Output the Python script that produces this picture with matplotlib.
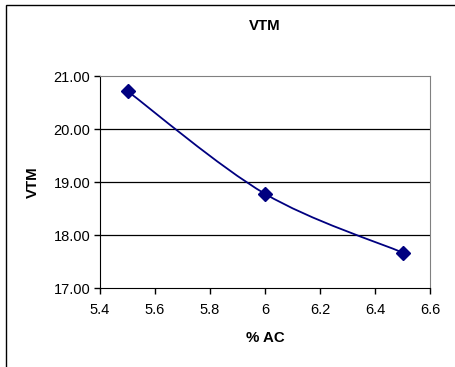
import matplotlib
matplotlib.use("Agg")
import matplotlib.pyplot as plt
from matplotlib.path import Path
from matplotlib.patches import PathPatch, Rectangle
import numpy as np

plt.rcParams['font.family'] = ['Liberation Sans', 'DejaVu Sans']

ac = [5.5, 6.0, 6.5]
vtm = [20.72, 18.78, 17.67]
x_ticks = [5.4, 5.6, 5.8, 6.0, 6.2, 6.4, 6.6]
x_tick_labels = ['5.4', '5.6', '5.8', '6', '6.2', '6.4', '6.6']
y_ticks = [17, 18, 19, 20, 21]

W, H = 456, 367
fig = plt.figure(figsize=(W / 100, H / 100), dpi=100)
fig.patch.set_facecolor('white')

# chart area border
fig.patches.append(Rectangle((6 / W, -0.05), 1.2, (H - 5) / H + 0.05,
                             transform=fig.transFigure, fill=False,
                             edgecolor='black', linewidth=1.0))

ax = fig.add_axes([100 / W, 1 - 288 / H, 330 / W, (288 - 76.3) / H])
ax.set_xlim(5.4, 6.6)
ax.set_ylim(17, 21)
ax.set_xticks(x_ticks)
ax.set_xticklabels(x_tick_labels)
ax.set_yticks(y_ticks)
ax.set_yticklabels([f'{v:.2f}' for v in y_ticks])
ax.tick_params(direction='out', length=4, width=1, labelsize=10.5, color='black')
ax.tick_params(axis='x', pad=7)
ax.tick_params(axis='y', pad=3)
for s in ['top', 'right']:
    ax.spines[s].set_color('#808080')
for s in ['left', 'bottom']:
    ax.spines[s].set_color('black')
for v in y_ticks[1:-1]:
    ax.axhline(v, color='black', linewidth=0.9, zorder=1)

# smoothed curve through the points (Catmull-Rom as cubic Bezier)
pts = np.column_stack([ac, vtm])
verts = [tuple(pts[0])]
codes = [Path.MOVETO]
n = len(pts)
for i in range(n - 1):
    p0 = pts[max(i - 1, 0)]
    p1 = pts[i]
    p2 = pts[i + 1]
    p3 = pts[min(i + 2, n - 1)]
    c1 = p1 + (p2 - p0) / 6
    c2 = p2 - (p3 - p1) / 6
    verts += [tuple(c1), tuple(c2), tuple(p2)]
    codes += [Path.CURVE4] * 3
ax.add_patch(PathPatch(Path(verts, codes), fill=False, edgecolor='#000080',
                       linewidth=1.3, zorder=3))
ax.plot(ac, vtm, linestyle='none', marker='D', markersize=7,
        color='#000080', zorder=4, clip_on=False)

fig.text(265 / W, 1 - 25.7 / H, 'VTM', ha='center', va='center',
         fontsize=10.8, fontweight='bold')
fig.text(265 / W, 1 - 337.7 / H, '% AC', ha='center', va='center',
         fontsize=10.8, fontweight='bold')
fig.text(33 / W, 1 - 182 / H, 'VTM', ha='center', va='center',
         fontsize=10.8, fontweight='bold', rotation=90)

fig.savefig('out.png', dpi=100)
